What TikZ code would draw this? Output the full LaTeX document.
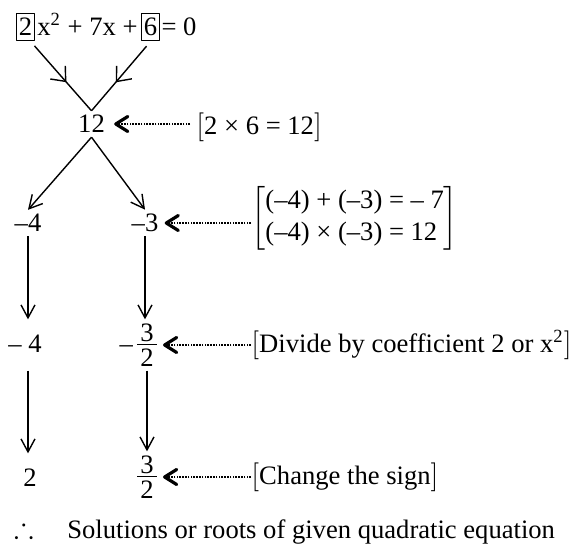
\documentclass[tikz,border=0pt]{standalone}
\usepackage{amsmath,amssymb}
\usepackage{fontspec}
\setmainfont{Liberation Serif}
\usepackage{tikz}
\usetikzlibrary{arrows.meta,decorations.markings}
\newcommand{\stackfrac}[2]{\ensuremath{\vcenter{\offinterlineskip\halign{\hfil\kern1.5pt##\kern1.5pt\hfil\cr #1\cr\noalign{\kern1pt\hrule height 0.5pt\kern2pt}#2\cr}}}}

\begin{document}
\begin{tikzpicture}[x=0.5pt, y=-0.5pt, line join=round,
  font=\fontsize{13.3}{16}\selectfont,
  solidarr/.style={line width=0.7pt, -{Straight Barb[length=6.5pt,width=7pt]}},
  midarr/.style={line width=0.7pt, postaction={decorate},
    decoration={markings, mark=at position 0.56 with {\arrow{Straight Barb[length=6pt,width=10pt]}}}},
  dotarr/.style={line width=0.6pt, dash pattern=on 0.8pt off 0.6pt,
    -{Straight Barb[length=6pt,width=7.5pt,line width=1.6pt,round]}},
  numnode/.style={inner xsep=3pt, inner ysep=2pt},
  boxed/.style={draw, line width=0.5pt, inner xsep=1.2pt, inner ysep=2.2pt},
  note/.style={anchor=base west, inner sep=0pt}]
\useasboundingbox (0,0) rectangle (573,544);
\node[boxed, anchor=base] (b2) at (25.5,36) {2};
\node[anchor=base west, inner sep=0pt] (eqmid) at ([xshift=1pt]b2.base east) {x\textsuperscript{2} + 7x +};
\node[boxed, anchor=base west] (b6) at ([xshift=1.5pt]eqmid.base east) {6};
\node[anchor=base west, inner sep=0pt] (eqend) at ([xshift=0.5pt]b6.base east) {= 0};
\node[numnode] (twelve) at (91.5,124) {12};
\node[note] (n12) at (196,135) {$[$2 × 6 = 12$]$};
\node[numnode] (m4) at (28,223) {–4};
\node[numnode] (m3) at (145,223) {–3};
\node[anchor=west, inner sep=0pt] (nsum) at (251,218) {$\left[\begin{tabular}{@{}l@{}}(–4) + (–3) = – 7\\(–4) × (–3) = 12\end{tabular}\right]$};
\node[numnode] (r4) at (25,345) {\vphantom{\stackfrac{3}{2}}– 4};
\node[numnode] (r3) at (147,345) {\llap{–\,}\stackfrac{3}{2}};
\node[note] (ndiv) at (251,353) {$[$Divide by coefficient 2 or x\textsuperscript{2}$]$};
\node[numnode] (s4) at (30,479) {\vphantom{\stackfrac{3}{2}}2};
\node[numnode] (s3) at (147,477) {\stackfrac{3}{2}};
\node[note] (nsign) at (251,485) {$[$Change the sign$]$};
\node[inner sep=0pt, scale=1.1] (ther) at (24,527) {$\therefore$};
\node[note] (sol) at (67,539) {Solutions or roots of given quadratic equation};
\draw[midarr] ([xshift=4.5pt,yshift=-2.5pt]b2.south) -- (twelve.north);
\draw[midarr] ([xshift=-2pt,yshift=-2.5pt]b6.south) -- (twelve.north);
\draw[solidarr] (twelve.south) -- (m4.north);
\draw[solidarr] (twelve.south) -- (m3.north);
\draw[solidarr] (m4.south) -- (m4.south |- r4.north);
\draw[solidarr] (m3.south) -- (m3.south |- r3.north);
\draw[solidarr] (m4.south |- r4.south) -- (m4.south |- s4.north);
\draw[solidarr] (r3.south) -- (s3.north);
\draw[dotarr, shorten <=3pt, shorten >=1.5pt] (n12.west |- twelve.east) -- (twelve.east);
\draw[dotarr] (nsum.west |- m3.east) -- (m3.east);
\draw[dotarr] (ndiv.west |- r3.east) -- (r3.east);
\draw[dotarr] (nsign.west |- s3.east) -- (s3.east);
\end{tikzpicture}
\end{document}
